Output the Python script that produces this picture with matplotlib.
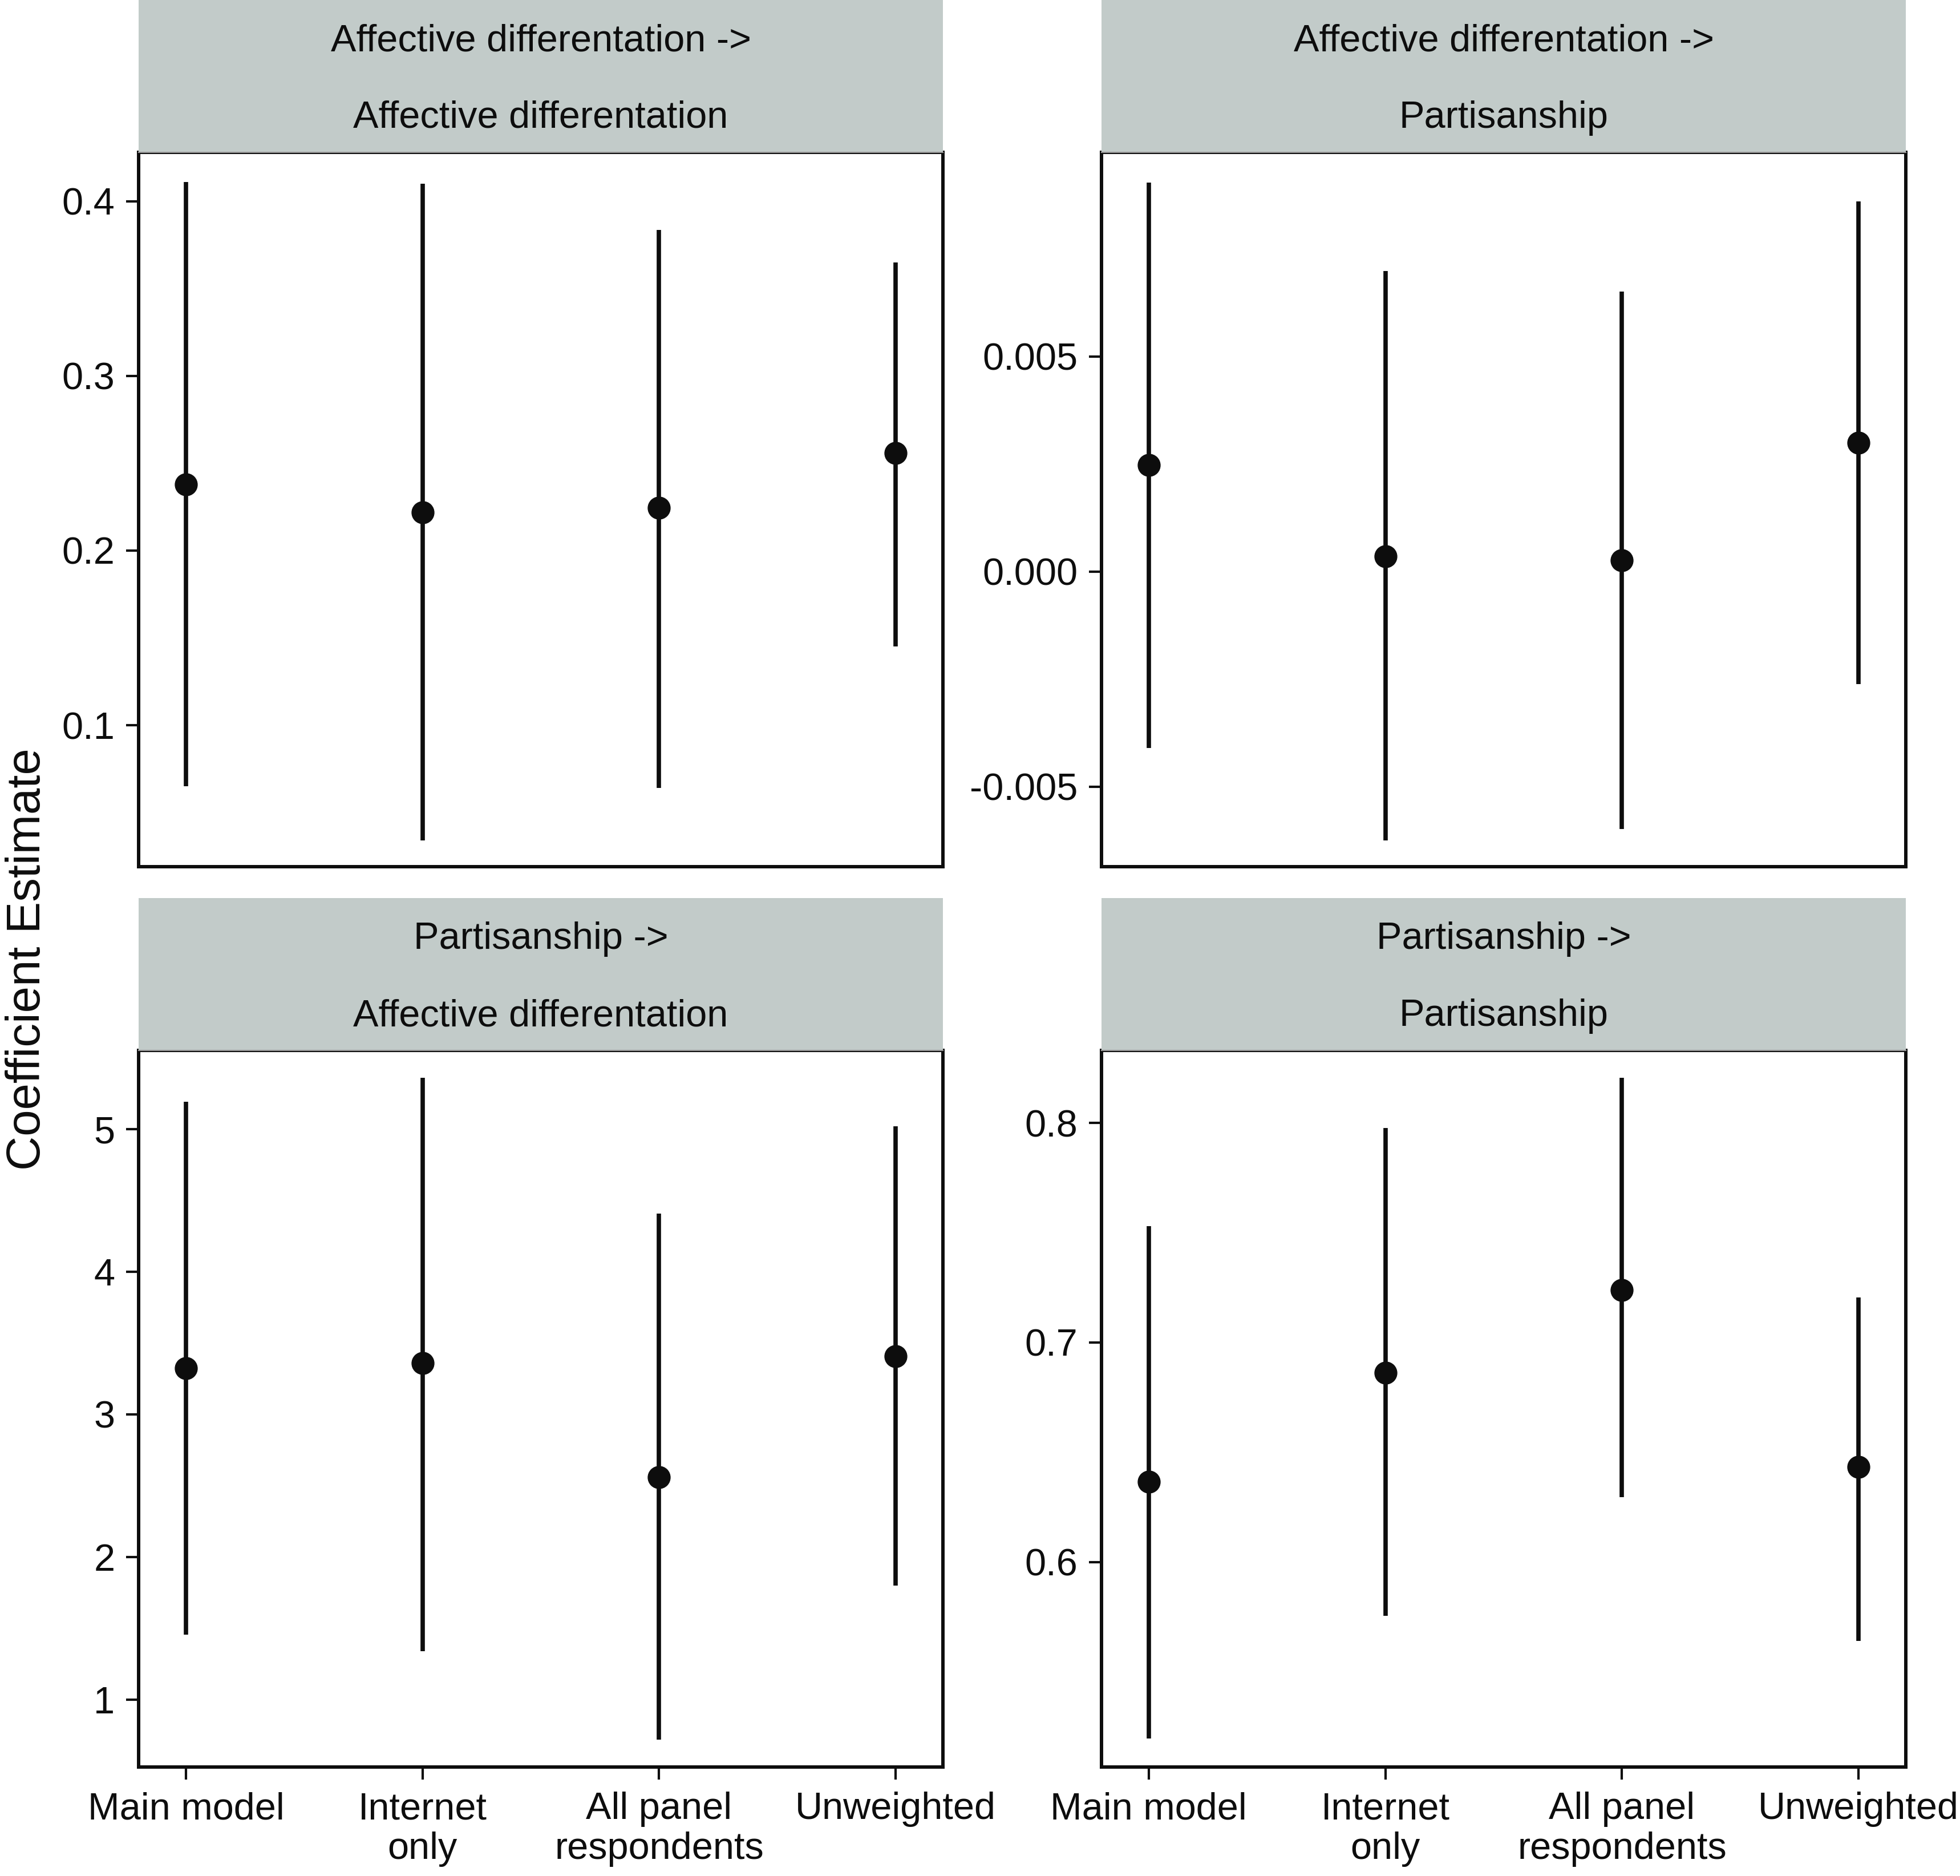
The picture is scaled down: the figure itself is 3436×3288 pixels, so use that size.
import numpy as np
import matplotlib
matplotlib.use("Agg")
import matplotlib.pyplot as plt
from matplotlib.ticker import FormatStrFormatter

plt.rcParams['font.family'] = ['Liberation Sans', 'DejaVu Sans']
plt.rcParams['axes.unicode_minus'] = False

# model variants on the x axis
categories = ["Main model", "Internet\nonly", "All panel\nrespondents", "Unweighted"]

# panel strips (two lines each)
titles = [
    ("Affective differentation ->", "Affective differentation"),
    ("Affective differentation ->", "Partisanship"),
    ("Partisanship ->", "Affective differentation"),
    ("Partisanship ->", "Partisanship"),
]

# coefficient estimates and confidence bounds
ad_ad_est = [0.238, 0.222, 0.2245, 0.256]
ad_ad_lo = [0.065, 0.034, 0.064, 0.145]
ad_ad_hi = [0.411, 0.410, 0.3835, 0.365]

ad_p_est = [0.00247, 0.00035, 0.00026, 0.00299]
ad_p_lo = [-0.0041, -0.00625, -0.00599, -0.00262]
ad_p_hi = [0.00904, 0.00698, 0.00651, 0.00860]

p_ad_est = [3.325, 3.36, 2.56, 3.41]
p_ad_lo = [1.456, 1.34, 0.72, 1.80]
p_ad_hi = [5.193, 5.36, 4.41, 5.02]

p_p_est = [0.6365, 0.6863, 0.7239, 0.6433]
p_p_lo = [0.5197, 0.5755, 0.6296, 0.5641]
p_p_hi = [0.753, 0.7977, 0.8205, 0.7205]

panels = [
    (ad_ad_est, ad_ad_lo, ad_ad_hi, [0.1, 0.2, 0.3, 0.4], "%.1f", (0.019, 0.428)),
    (ad_p_est, ad_p_lo, ad_p_hi, [-0.005, 0.0, 0.005], "%.3f", (-0.00686, 0.00974)),
    (p_ad_est, p_ad_lo, p_ad_hi, [1, 2, 3, 4, 5], "%d", (0.526, 5.553)),
    (p_p_est, p_p_lo, p_p_hi, [0.6, 0.7, 0.8], "%.1f", (0.5066, 0.833)),
]

W, H = 3437, 3288
fig = plt.figure(figsize=(W / 100, H / 100), dpi=100)

col_x = [0.0707, 0.5618]
ax_w = 0.4103
row_ax = [(0.538, 0.9188), (0.0581, 0.44)]
row_strip = [(0.9188, 1.0), (0.44, 0.5213)]

strip_col = "#c2cbc9"
ink = "#0d0d0d"
x = np.arange(1, len(categories) + 1)

for i, (est, lo, hi, ticks, fmt, ylim) in enumerate(panels):
    r, c = divmod(i, 2)
    y0, y1 = row_ax[r]
    ax = fig.add_axes([col_x[c], y0, ax_w, y1 - y0])
    ax.vlines(x, lo, hi, color=ink, linewidth=5.5)
    ax.plot(x, est, "o", color=ink, markersize=28)
    ax.set_xlim(0.8, 4.2)
    ax.set_ylim(*ylim)
    ax.set_yticks(ticks)
    ax.yaxis.set_major_formatter(FormatStrFormatter(fmt))
    ax.set_xticks(x)
    ax.tick_params(axis="both", labelsize=48, width=3, length=16, color=ink,
                   labelcolor=ink)
    ax.tick_params(axis="y", pad=14)
    if r == 1:
        ax.set_xticklabels(categories, linespacing=1.16)
        ax.tick_params(axis="x", pad=15)
    else:
        ax.set_xticklabels([])
        ax.tick_params(axis="x", length=0)
    for sp in ax.spines.values():
        sp.set_linewidth(4.3)
        sp.set_color(ink)

    s0, s1 = row_strip[r]
    sax = fig.add_axes([col_x[c], s0, ax_w, s1 - s0])
    sax.set_facecolor(strip_col)
    sax.set_xticks([])
    sax.set_yticks([])
    for name, sp in sax.spines.items():
        sp.set_visible(name == "bottom")
    sax.spines["bottom"].set_color("#9a9a9a")
    sax.spines["bottom"].set_linewidth(1.5)
    sax.text(0.5, 0.73, titles[i][0], ha="center", va="center",
             fontsize=48, color=ink, transform=sax.transAxes)
    sax.text(0.5, 0.225, titles[i][1], ha="center", va="center",
             fontsize=48, color=ink, transform=sax.transAxes)

fig.text(0.014, 0.4887, "Coefficient Estimate", rotation=90, ha="center",
         va="center", fontsize=60, color=ink)

fig.savefig("out.png", dpi=100, facecolor="white")
